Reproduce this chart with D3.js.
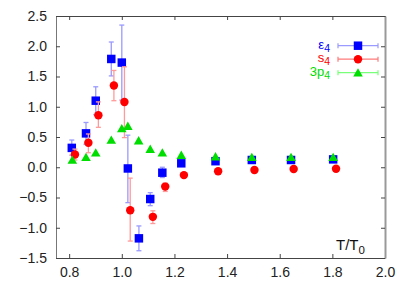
<!DOCTYPE html>
<html>
<head>
<meta charset="utf-8">
<script src="https://cdn.jsdelivr.net/npm/d3@7"></script>
<style>
  body { margin: 0; background: #fff; }
  text { font-family: "Liberation Sans", Arial, sans-serif; }
</style>
</head>
<body>
<div id="chart"></div>
<script>
// epsilon_4 (blue squares): T/T0, value, error low, error high
const epsT  = [0.810, 0.864, 0.901, 0.960, 1.000, 1.023, 1.065, 1.108, 1.154, 1.226, 1.356, 1.494, 1.643, 1.803];
const epsV  = [0.32, 0.56, 1.10, 1.79, 1.73, -0.02, -1.175, -0.525, -0.09, 0.065, 0.10, 0.12, 0.12, 0.13];
const epsLo = [0.20, 0.38, 0.87, 1.51, 1.11, -0.585, -1.38, -0.635, -0.17, 0.04, 0.08, 0.10, 0.11, 0.12];
const epsHi = [0.45, 0.74, 1.33, 2.07, 2.35, 0.53, -0.97, -0.42, 0.0, 0.09, 0.12, 0.14, 0.13, 0.14];

// s_4 (red circles)
const sT  = [0.822, 0.873, 0.911, 0.970, 1.010, 1.032, 1.118, 1.165, 1.236, 1.366, 1.504, 1.653, 1.814];
const sV  = [0.21, 0.405, 0.86, 1.35, 1.08, -0.71, -0.82, -0.32, -0.13, -0.067, -0.045, -0.03, -0.025];
const sLo = [0.12, 0.24, 0.66, 1.10, 0.49, -1.22, -0.93, -0.40, -0.16, -0.08, -0.06, -0.04, -0.035];
const sHi = [0.30, 0.55, 1.08, 1.60, 1.66, -0.18, -0.72, -0.26, -0.10, -0.05, -0.03, -0.02, -0.015];

// 3p_4 (green triangles)
const pT = [0.812, 0.864, 0.901, 0.960, 1.000, 1.023, 1.064, 1.108, 1.154, 1.226, 1.356, 1.494, 1.643, 1.803];
const pV = [0.12, 0.165, 0.24, 0.45, 0.64, 0.68, 0.44, 0.30, 0.24, 0.20, 0.175, 0.165, 0.165, 0.165];

const xTicks = [0.8, 1.0, 1.2, 1.4, 1.6, 1.8, 2.0];
const yTicks = [-1.5, -1.0, -0.5, 0.0, 0.5, 1.0, 1.5, 2.0, 2.5];

const W = 409, H = 286;
const margin = { top: 16, right: 24, bottom: 28, left: 56 };
const width = W - margin.left - margin.right,
      height = H - margin.top - margin.bottom;

const svg = d3.select("#chart").append("svg")
    .attr("width", W)
    .attr("height", H);

const g = svg.append("g")
    .attr("transform", `translate(${margin.left},${margin.top})`);

const x = d3.scaleLinear().domain([0.75, 2.0]).range([0, width]);
const y = d3.scaleLinear().domain([-1.5, 2.5]).range([height, 0]);

// axes with inward ticks
g.append("g")
    .attr("transform", `translate(0,${height})`)
    .call(d3.axisBottom(x).tickValues(xTicks).tickFormat(d3.format(".1f")).tickSizeInner(-4).tickSizeOuter(0).tickPadding(9))
    .call(a => a.select(".domain").attr("stroke", "#444"));
g.append("g")
    .call(d3.axisTop(x).tickValues(xTicks).tickFormat("").tickSizeInner(-4).tickSizeOuter(0))
    .call(a => a.select(".domain").attr("stroke", "#444"));
g.append("g")
    .call(d3.axisLeft(y).tickValues(yTicks).tickFormat(d3.format(".1f")).tickSizeInner(-4).tickSizeOuter(0).tickPadding(9))
    .call(a => a.select(".domain").attr("stroke", "#777"));
g.append("g")
    .attr("transform", `translate(${width},0)`)
    .call(d3.axisRight(y).tickValues(yTicks).tickFormat("").tickSizeInner(-4).tickSizeOuter(0))
    .call(a => a.select(".domain").attr("stroke", "#999").attr("stroke-width", 2));

g.selectAll(".tick text").style("font-size", "14px").attr("fill", "#222");
g.selectAll(".tick line").attr("stroke", "#444");

// error bars
function errorBars(xs, lo, hi, color) {
    const eb = g.append("g").attr("stroke", color).attr("stroke-width", 1.3);
    xs.forEach((t, i) => {
        const cx = x(t);
        eb.append("line").attr("x1", cx).attr("x2", cx).attr("y1", y(lo[i])).attr("y2", y(hi[i]));
        eb.append("line").attr("x1", cx - 2.5).attr("x2", cx + 2.5).attr("y1", y(lo[i])).attr("y2", y(lo[i]));
        eb.append("line").attr("x1", cx - 2.5).attr("x2", cx + 2.5).attr("y1", y(hi[i])).attr("y2", y(hi[i]));
    });
}

const sqr = d3.symbol().type(d3.symbolSquare).size(72);
const circ = d3.symbol().type(d3.symbolCircle).size(56);
const tri = d3.symbol().type(d3.symbolTriangle).size(40);

errorBars(epsT, epsLo, epsHi, "#9a9aff");
g.selectAll(".eps").data(epsT).enter().append("path")
    .attr("d", sqr)
    .attr("transform", (d, i) => `translate(${x(d)},${y(epsV[i])})`)
    .attr("fill", "#0000ff");

errorBars(sT, sLo, sHi, "#ff9a9a");
g.selectAll(".s").data(sT).enter().append("path")
    .attr("d", circ)
    .attr("transform", (d, i) => `translate(${x(d)},${y(sV[i])})`)
    .attr("fill", "#ff0000");

g.selectAll(".p").data(pT).enter().append("path")
    .attr("d", tri)
    .attr("transform", (d, i) => `translate(${x(d)},${y(pV[i]) + 1})`)
    .attr("fill", "#00dd00");

// legend
const legend = [
    { name: "ε", sub: "4", color: "#0000ff", bar: "#9a9aff", sym: sqr },
    { name: "s", sub: "4", color: "#ff0000", bar: "#ff7a7a", sym: circ },
    { name: "3p", sub: "4", color: "#00dd00", bar: "#7aff7a", sym: tri }
];
const lg = svg.append("g");
legend.forEach((d, i) => {
    const ly = 45.7 + i * 13.5;
    const t = lg.append("text")
        .attr("x", 330).attr("y", ly + 3)
        .attr("text-anchor", "end")
        .attr("fill", d.color)
        .style("font-size", "13px");
    t.append("tspan").text(d.name);
    t.append("tspan").attr("dy", 3).style("font-size", "10.5px").text(d.sub);
    lg.append("line").attr("x1", 338).attr("x2", 378).attr("y1", ly).attr("y2", ly).attr("stroke", d.bar).attr("stroke-width", 1.2);
    lg.append("line").attr("x1", 338).attr("x2", 338).attr("y1", ly - 2.5).attr("y2", ly + 2.5).attr("stroke", d.bar).attr("stroke-width", 1.2);
    lg.append("line").attr("x1", 378).attr("x2", 378).attr("y1", ly - 2.5).attr("y2", ly + 2.5).attr("stroke", d.bar).attr("stroke-width", 1.2);
    lg.append("path").attr("d", d.sym).attr("transform", `translate(358,${ly + (i === 2 ? 1 : 0)})`).attr("fill", d.color);
});

// axis label
const xl = svg.append("text")
    .attr("x", 336).attr("y", 250)
    .attr("fill", "#111")
    .style("font-size", "15px");
xl.append("tspan").text("T/T");
xl.append("tspan").attr("dy", 4).style("font-size", "11.5px").text("0");
</script>
</body>
</html>
